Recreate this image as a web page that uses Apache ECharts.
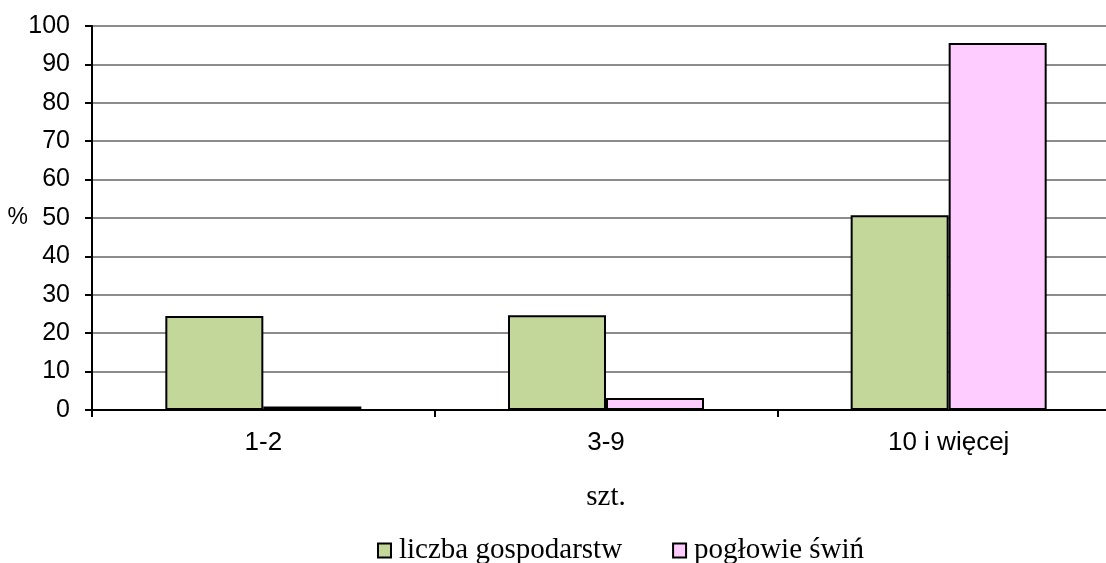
<!DOCTYPE html>
<html>
<head>
<meta charset="utf-8">
<script src="https://cdn.jsdelivr.net/npm/echarts@6/dist/echarts.min.js"></script>
<style>html,body{margin:0;padding:0;background:#fff}#c{width:1106px;height:563px}</style>
</head>
<body>
<div id="c"></div>
<script>
const categories = ['1-2', '3-9', '10 i więcej'];
const farms = [24.5, 24.7, 50.7];
const pigs = [0.9, 3.1, 95.6];
const yTicks = [0, 100, 10];

const chart = echarts.init(document.getElementById('c'));
chart.setOption({
  animation: false,
  backgroundColor: '#fff',
  grid: { left: 92, top: 26, width: 1028, height: 384, outerBoundsMode: 'none', containLabel: false },
  legend: {
    left: 372, top: 531,
    icon: 'rect', itemWidth: 13, itemHeight: 14, itemGap: 50,
    textStyle: { fontFamily: 'Liberation Serif', fontSize: 29, color: '#000', padding: [0, 0, 0, 3] },
    itemStyle: { borderColor: '#000', borderWidth: 2 },
    data: ['liczba gospodarstw', 'pogłowie świń']
  },
  xAxis: {
    type: 'category', data: categories,
    name: 'szt.', nameLocation: 'middle', nameGap: 73, nameMoveOverlap: false,
    nameTextStyle: { fontFamily: 'Liberation Serif', fontSize: 29, color: '#000' },
    axisLine: { lineStyle: { color: '#000', width: 2 } },
    axisTick: { show: true, length: 7, lineStyle: { color: '#000', width: 2 } },
    axisLabel: { fontFamily: 'Liberation Sans', fontSize: 26, color: '#000', margin: 20 }
  },
  yAxis: {
    type: 'value', min: yTicks[0], max: yTicks[1], interval: yTicks[2],
    name: '%', nameLocation: 'middle', nameRotate: 0, nameGap: 64, nameMoveOverlap: false,
    nameTextStyle: { fontFamily: 'Liberation Sans', fontSize: 23, color: '#000', padding: [0, 0, 12, 0] },
    axisLine: { show: true, lineStyle: { color: '#000', width: 2 } },
    axisTick: { show: true, length: 7, lineStyle: { color: '#000', width: 2 } },
    axisLabel: { fontFamily: 'Liberation Sans', fontSize: 25, color: '#000', margin: 22 },
    splitLine: { lineStyle: { color: '#8c8c8c', width: 2 } }
  },
  series: [
    {
      name: 'liczba gospodarstw', type: 'bar', data: farms,
      barWidth: '28.6%', barGap: '0%',
      itemStyle: { color: '#c4d79b', borderColor: '#000', borderWidth: 2 }
    },
    {
      name: 'pogłowie świń', type: 'bar', data: pigs,
      barWidth: '28.6%', barGap: '0%',
      itemStyle: { color: '#ffccff', borderColor: '#000', borderWidth: 2 }
    }
  ]
});
</script>
</body>
</html>
